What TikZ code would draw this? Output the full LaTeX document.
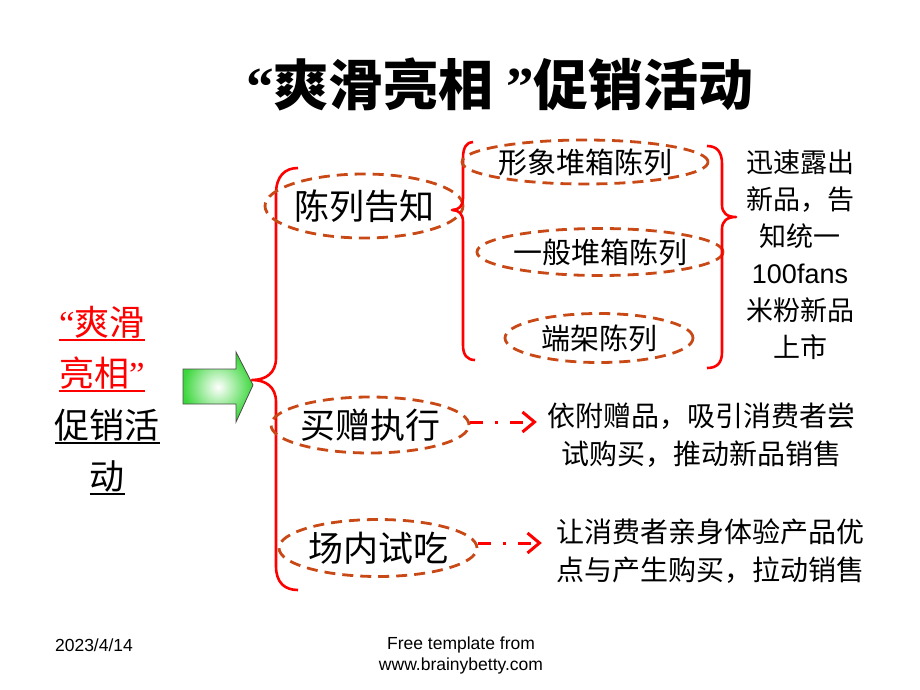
\documentclass[tikz,border=0pt]{standalone}
\usepackage{xcolor}
\usepackage{fontspec}
\setmainfont{Liberation Sans}
\newfontfamily\cjk{Noto Sans CJK SC}
\newfontfamily\qfont{Liberation Serif}
\usetikzlibrary{shapes.geometric,arrows.meta}
\definecolor{bracered}{RGB}{255,0,0}
\definecolor{ringred}{RGB}{200,72,22}
\definecolor{arrowgreen}{RGB}{60,215,60}
\newcommand\thickul[1]{\leavevmode\vtop{\hbox{#1}\kern1pt\hrule height 2.4pt}}

\begin{document}
\begin{tikzpicture}[x=1pt,y=-1pt,every node/.style={inner sep=0pt,align=center},
    ring/.style={shape=ellipse,draw=ringred,line width=2.8pt,dash pattern=on 11pt off 7pt},
    brace/.style={draw=bracered,line width=2.6pt,line join=round},
    dotarrow/.style={draw=bracered,line width=3pt,dash pattern=on 13pt off 12pt on 3pt off 12pt,-{Straight Barb[length=12pt,width=20pt,line width=3pt]}},
    big/.style={font=\cjk\fontsize{35}{51}\selectfont},
    mid/.style={font=\cjk\fontsize{29}{35}\selectfont},
    note/.style={font=\cjk\fontsize{27}{37}\selectfont},
    foot/.style={font=\fontsize{17.5}{21}\selectfont}]
\useasboundingbox (0,0) rectangle (920,690);
\node (title) at (500,84) {\cjk\bfseries\fontsize{55}{60}\selectfont{\qfont “}爽滑亮相 {\qfont ”}促销活动};
% left side
\node[big,text=red] (slogan) at (102,349) {\thickul{{\qfont “}爽滑}\\\thickul{亮相{\qfont ”}}};
\node[big] (promo) at (107,452) {\thickul{促销活}\\\thickul{动}};
\path[draw=black!70,line width=0.8pt,inner color=white,outer color=arrowgreen]
  (183,369) -- (236,369) -- (236,352) -- (253,385) -- (236,422) -- (236,404) -- (183,404) -- cycle;
\draw[brace] (298,168) .. controls (285,168) and (276,176) .. (276,194) -- (276,358)
  .. controls (276,373) and (266,380) .. (252,380) .. controls (266,380) and (276,387) .. (276,402)
  -- (276,566) .. controls (276,583) and (285,590) .. (298,590);
% first branch
\node[ring,big,minimum width=162pt,minimum height=64pt] (chenlie) at (364,206) {陈列告知};
\draw[brace] (473,142) .. controls (467,142) and (463,147) .. (463,158) -- (463,198)
  .. controls (463,206) and (459,210) .. (452,210) .. controls (459,210) and (463,214) .. (463,222)
  -- (463,345) .. controls (463,355) and (467,360) .. (475,360);
\node[ring,mid,minimum width=224pt,minimum height=44pt] (xingxiang) at (585,162) {形象堆箱陈列};
\node[ring,mid,minimum width=225pt,minimum height=47pt] (yiban) at (600,252) {一般堆箱陈列};
\node[ring,mid,minimum width=188pt,minimum height=49pt] (duanjia) at (599,338) {端架陈列};
\draw[brace] (707,146) .. controls (717,146) and (722,152) .. (722,164) -- (722,205)
  .. controls (722,213) and (727,217) .. (736,217) .. controls (727,217) and (722,221) .. (722,229)
  -- (722,352) .. controls (722,363) and (717,368) .. (707,368);
\node[note] (showtext) at (800,255) {迅速露出\\新品，告\\知统一\\{\fontspec{Liberation Sans}100fans}\\米粉新品\\上市};
% second and third branch
\node[ring,big,minimum width=175pt,minimum height=56pt] (maizeng) at (370,425) {买赠执行};
\node[note,font=\cjk\fontsize{28}{38}\selectfont] (zengdesc) at (701,435) {依附赠品，吸引消费者尝\\试购买，推动新品销售};
\draw[dotarrow] ([yshift=3pt]maizeng.east) -- ([yshift=3pt,xshift=-10pt]maizeng.east -| zengdesc.west);
\node[ring,big,minimum width=177pt,minimum height=57pt] (shichi) at (378,548) {场内试吃};
\node[note,font=\cjk\fontsize{28}{38}\selectfont] (chidesc) at (710,551) {让消费者亲身体验产品优\\点与产生购买，拉动销售};
\draw[dotarrow] ([yshift=5pt]shichi.east) -- ([yshift=5pt,xshift=-14pt]shichi.east -| chidesc.west);
% footer
\node[foot] (date) at (94,645) {2023/4/14};
\node[foot] (source) at (461,655) {Free template from\\www.brainybetty.com};
\end{tikzpicture}
\end{document}
